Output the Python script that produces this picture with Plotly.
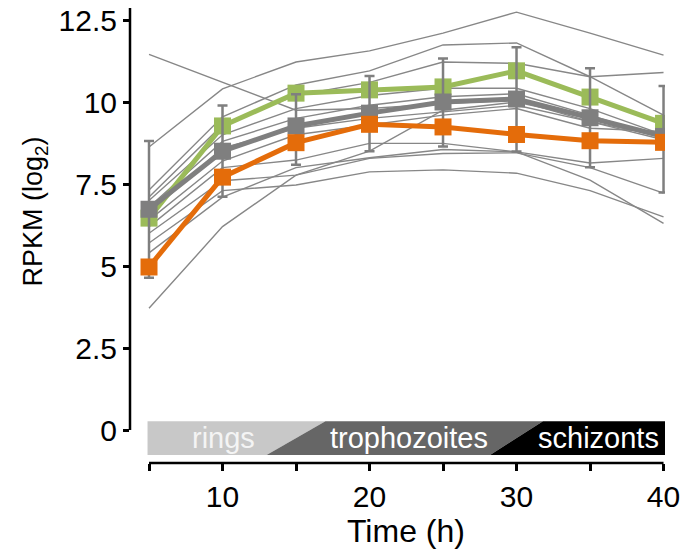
import plotly.graph_objects as go

# ---- data ----
time_h = [5, 10, 15, 20, 25, 30, 35, 40]

green_vals = [6.46, 9.27, 10.27, 10.37, 10.46, 10.95, 10.15, 9.35]
gray_vals = [6.73, 8.50, 9.27, 9.66, 10.00, 10.09, 9.52, 8.95]
orange_vals = [4.97, 7.71, 8.76, 9.32, 9.24, 9.01, 8.82, 8.77]

gray_err_top = [8.81, 9.89, 10.24, 10.79, 11.33, 11.67, 11.03, 10.49]
gray_err_bottom = [4.64, 7.11, 8.09, 8.50, 8.64, 8.49, 8.01, 7.24]

thin_lines = [
    [8.63, 10.40, 11.22, 11.56, 12.10, 12.74, 12.10, 11.43],
    [7.32, 9.55, 10.52, 10.95, 11.74, 11.80, 10.77, 9.60],
    [7.10, 9.30, 10.20, 10.60, 11.22, 11.18, 10.77, 10.90],
    [11.45, 10.60, 9.75, 9.80, 9.95, 10.05, 9.40, 8.85],
    [7.00, 9.00, 9.80, 10.20, 10.42, 10.42, 9.80, 9.00],
    [6.80, 8.80, 9.50, 9.90, 10.16, 10.25, 9.60, 8.90],
    [6.60, 8.60, 9.20, 9.50, 9.70, 9.90, 9.40, 8.95],
    [6.40, 8.20, 9.00, 9.30, 9.60, 9.80, 9.20, 9.10],
    [6.20, 8.00, 8.23, 8.74, 8.74, 8.48, 8.14, 8.28],
    [6.00, 7.60, 7.77, 8.28, 8.43, 8.45, 8.00, 7.22],
    [5.70, 7.30, 7.47, 7.87, 7.93, 7.83, 7.30, 6.50],
    [5.40, 7.10, 8.00, 8.30, 8.55, 8.48, 7.62, 6.30],
    [3.71, 6.20, 7.77, 8.50, 9.75, 10.00, 9.50, 8.90],
]

stage_names = ["rings", "trophozoites", "schizonts"]
stage_colors = ["#c8c8c8", "#666666", "#000000"]
stage_text_x = [10.1, 22.7, 35.6]
# diagonal boundaries between stages: (bottom x, top x)
stage_bounds_bottom = [4.9, 13.0, 28.2, 40.1]
stage_bounds_top = [4.9, 17.0, 31.8, 40.1]
stage_bar_y = [-0.76, 0.27]

x_tickvals = [10, 20, 30, 40]
x_minor_ticks = [5, 15, 25, 35]
y_tickvals = [0, 2.5, 5, 7.5, 10, 12.5]
y_ticktext = ["0", "2.5", "5", "7.5", "10", "12.5"]

X_RANGE = [3.707, 40.1]
Y_RANGE = [-1.006, 12.866]

# ---- figure ----
FONT = "Liberation Sans, Arial, Helvetica, sans-serif"
fig = go.Figure()

for vals in thin_lines:
    fig.add_trace(go.Scatter(x=time_h, y=vals, mode="lines",
                             line=dict(color="#878787", width=1.4),
                             showlegend=False, hoverinfo="skip"))

fig.add_trace(go.Scatter(x=time_h, y=green_vals, mode="lines+markers",
                         line=dict(color="#9bbb59", width=5),
                         marker=dict(symbol="square", size=17, color="#9bbb59"),
                         showlegend=False))

err_plus = [t - v for t, v in zip(gray_err_top, gray_vals)]
err_minus = [v - b for v, b in zip(gray_vals, gray_err_bottom)]
fig.add_trace(go.Scatter(x=time_h, y=gray_vals, mode="lines+markers",
                         line=dict(color="#7f7f7f", width=5),
                         marker=dict(symbol="square", size=17, color="#7f7f7f"),
                         error_y=dict(type="data", array=err_plus, arrayminus=err_minus,
                                      color="#7f7f7f", thickness=2.5, width=5),
                         showlegend=False))

fig.add_trace(go.Scatter(x=time_h, y=orange_vals, mode="lines+markers",
                         line=dict(color="#e46c0a", width=5),
                         marker=dict(symbol="square", size=17, color="#e46c0a"),
                         showlegend=False))

# stage bar
shapes = []
for i in range(3):
    xb0, xb1 = stage_bounds_bottom[i], stage_bounds_bottom[i + 1]
    xt0, xt1 = stage_bounds_top[i], stage_bounds_top[i + 1]
    y0, y1 = stage_bar_y
    path = f"M {xb0},{y0} L {xb1},{y0} L {xt1},{y1} L {xt0},{y1} Z"
    shapes.append(dict(type="path", path=path, xref="x", yref="y",
                       fillcolor=stage_colors[i], line=dict(width=0), layer="below"))

# axis lines (R style, spanning tick range)
shapes.append(dict(type="line", xref="x", yref="paper", x0=x_minor_ticks[0], x1=x_tickvals[-1],
                   y0=0, y1=0, line=dict(color="black", width=2.5)))
shapes.append(dict(type="line", xref="paper", yref="y", x0=0, x1=0,
                   y0=y_tickvals[0], y1=Y_RANGE[1], line=dict(color="black", width=2.5)))

annotations = []
for name, xc in zip(stage_names, stage_text_x):
    annotations.append(dict(x=xc, y=sum(stage_bar_y) / 2, xref="x", yref="y",
                            text=name, showarrow=False,
                            font=dict(family=FONT, size=29,
                                      color="#f4f4f4" if name == "rings" else "white"),
                            xanchor="center", yanchor="middle"))

# axis titles
annotations.append(dict(x=-0.178, y=0.552, xref="paper", yref="paper",
                        text="RPKM (log<sub>2</sub>)", textangle=-90, showarrow=False,
                        font=dict(family=FONT, size=27, color="black"),
                        xanchor="center", yanchor="middle"))
annotations.append(dict(x=0.516, y=-0.15, xref="paper", yref="paper",
                        text="Time (h)", showarrow=False,
                        font=dict(family=FONT, size=32, color="black"),
                        xanchor="center", yanchor="middle"))

fig.update_layout(
    width=683, height=552,
    margin=dict(l=130, r=18, t=8, b=89),
    plot_bgcolor="white", paper_bgcolor="white",
    shapes=shapes, annotations=annotations,
    font=dict(family=FONT, size=30, color="black"),
    showlegend=False,
    xaxis=dict(range=X_RANGE, tickvals=x_tickvals, ticktext=[str(v) for v in x_tickvals],
               ticks="outside", ticklen=7, tickwidth=2.5, tickcolor="black",
               minor=dict(tickvals=x_minor_ticks, ticks="outside", ticklen=7,
                          tickwidth=2.5, tickcolor="black", showgrid=False),
               showline=False, showgrid=False, zeroline=False, automargin=False,
               ticklabeloverflow="allow",
               tickfont=dict(family=FONT, size=30, color="black")),
    yaxis=dict(range=Y_RANGE, tickvals=y_tickvals, ticktext=y_ticktext,
               ticks="outside", ticklen=6, tickwidth=2.5, tickcolor="black",
               showline=False, showgrid=False, zeroline=False, automargin=False,
               ticklabeloverflow="allow",
               tickfont=dict(family=FONT, size=30, color="black")),
)

# remove the default 8px body margin so the figure fills the window exactly
fig.write_html("out.html",
               config={"displayModeBar": False},
               post_script="document.body.style.margin='0';document.body.style.overflow='hidden';")
